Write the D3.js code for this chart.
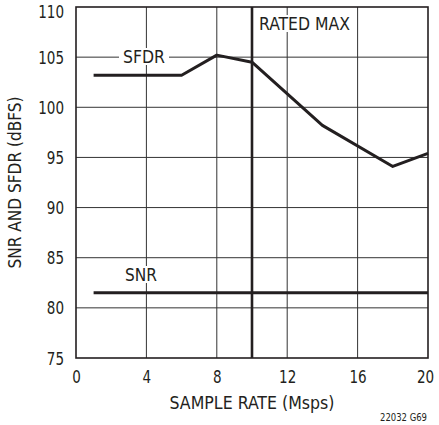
<!DOCTYPE html>
<html>
<head>
  <meta charset="utf-8">
  <title>SNR and SFDR vs Sample Rate</title>
  <script src="https://d3js.org/d3.v7.min.js"></script>
  <style>
    body {
      margin: 0;
      padding: 0;
      background: white;
    }
    text {
      font-family: "Liberation Sans Narrow", "Arial Narrow", "DejaVu Sans Condensed", sans-serif;
      fill: #231f20;
    }
    .grid line {
      stroke: #333;
      stroke-width: 1px;
    }
  </style>
</head>
<body>
  <div id="chart"></div>
  <script>
    // chart data
    var xTicks = [0, 4, 8, 12, 16, 20];
    var yTicks = [75, 80, 85, 90, 95, 100, 105, 110];
    var sfdrRate = [1, 6, 8, 10, 14, 18, 20];
    var sfdrValue = [103.2, 103.2, 105.2, 104.5, 98.2, 94.1, 95.4];
    var snrRate = [1, 20];
    var snrValue = [81.5, 81.5];
    var ratedMax = 10;

    var width = 439,
      height = 425;
    var margin = {top: 7, right: 11, bottom: 67, left: 76};

    var svg = d3.select("#chart")
      .append("svg")
      .attr("width", width)
      .attr("height", height);

    var x = d3.scaleLinear()
      .domain([0, 20])
      .range([margin.left, width - margin.right]);
    var y = d3.scaleLinear()
      .domain([75, 110])
      .range([height - margin.bottom, margin.top]);

    // grid lines
    var grid = svg.append("g").attr("class", "grid");
    grid.selectAll(".vx")
      .data(xTicks.slice(1, -1))
      .enter()
      .append("line")
      .attr("x1", d => x(d)).attr("x2", d => x(d))
      .attr("y1", y(75)).attr("y2", y(110));
    grid.selectAll(".hy")
      .data(yTicks.slice(1, -1))
      .enter()
      .append("line")
      .attr("x1", x(0)).attr("x2", x(20))
      .attr("y1", d => y(d)).attr("y2", d => y(d));

    // frame
    svg.append("rect")
      .attr("x", x(0)).attr("y", y(110))
      .attr("width", x(20) - x(0))
      .attr("height", y(75) - y(110))
      .attr("fill", "none")
      .attr("stroke", "#231f20")
      .attr("stroke-width", 1.6);

    // axis labels using d3 axes, domain and ticks hidden
    var xAxis = svg.append("g")
      .attr("transform", "translate(0," + y(75) + ")")
      .call(d3.axisBottom(x).tickValues(xTicks).tickSize(0).tickPadding(0));
    xAxis.select(".domain").remove();
    xAxis.selectAll("text")
      .attr("dy", null)
      .attr("y", 25)
      .attr("font-size", 17)
      .attr("font-family", null)
      .attr("textLength", d => String(d).length * 8.6)
      .attr("lengthAdjust", "spacingAndGlyphs");
    xAxis.selectAll("text").filter(d => d === 20).attr("x", -3);

    var yAxis = svg.append("g")
      .attr("transform", "translate(" + x(0) + ",0)")
      .call(d3.axisLeft(y).tickValues(yTicks).tickSize(0).tickPadding(12));
    yAxis.select(".domain").remove();
    yAxis.selectAll("text")
      .attr("dy", "0.36em")
      .attr("font-size", 17)
      .attr("font-family", null)
      .attr("textLength", d => String(d).length * 8.6)
      .attr("lengthAdjust", "spacingAndGlyphs");
    yAxis.selectAll("text").filter(d => d === 110).attr("dy", "0.62em");

    // line series
    var line = d3.line()
      .x(d => x(d[0]))
      .y(d => y(d[1]));

    // rated max marker
    svg.append("line")
      .attr("x1", x(ratedMax)).attr("x2", x(ratedMax))
      .attr("y1", y(110)).attr("y2", y(75))
      .attr("stroke", "#231f20")
      .attr("stroke-width", 2.6);

    svg.append("path")
      .datum(d3.zip(snrRate, snrValue))
      .attr("d", line)
      .attr("fill", "none")
      .attr("stroke", "#231f20")
      .attr("stroke-width", 3);

    svg.append("path")
      .datum(d3.zip(sfdrRate, sfdrValue))
      .attr("d", line)
      .attr("fill", "none")
      .attr("stroke", "#231f20")
      .attr("stroke-width", 3)
      .attr("stroke-linejoin", "round");

    // labels with white backing over the grid
    function label(txt, cx, baseline, len) {
      svg.append("rect")
        .attr("x", cx - len / 2 - 4)
        .attr("y", baseline - 15)
        .attr("width", len + 8)
        .attr("height", 17)
        .attr("fill", "white");
      svg.append("text")
        .attr("x", cx)
        .attr("y", baseline)
        .attr("text-anchor", "middle")
        .attr("font-size", 18)
        .attr("textLength", len)
        .attr("lengthAdjust", "spacingAndGlyphs")
        .text(txt);
    }
    label("SFDR", 144, 63, 42);
    label("SNR", 141, 281, 32);
    label("RATED MAX", 304.5, 30, 91);

    // axis titles
    svg.append("text")
      .attr("x", x(10))
      .attr("y", 409)
      .attr("text-anchor", "middle")
      .attr("font-size", 18)
      .attr("textLength", 165)
      .attr("lengthAdjust", "spacingAndGlyphs")
      .text("SAMPLE RATE (Msps)");

    svg.append("text")
      .attr("transform", "translate(21," + (y(75) + y(110)) / 2 + ") rotate(-90)")
      .attr("text-anchor", "middle")
      .attr("font-size", 18)
      .attr("textLength", 172)
      .attr("lengthAdjust", "spacingAndGlyphs")
      .text("SNR AND SFDR (dBFS)");

    svg.append("text")
      .attr("x", 427)
      .attr("y", 421)
      .attr("text-anchor", "end")
      .attr("font-size", 11)
      .attr("textLength", 47)
      .attr("lengthAdjust", "spacingAndGlyphs")
      .text("22032 G69");
  </script>
</body>
</html>
